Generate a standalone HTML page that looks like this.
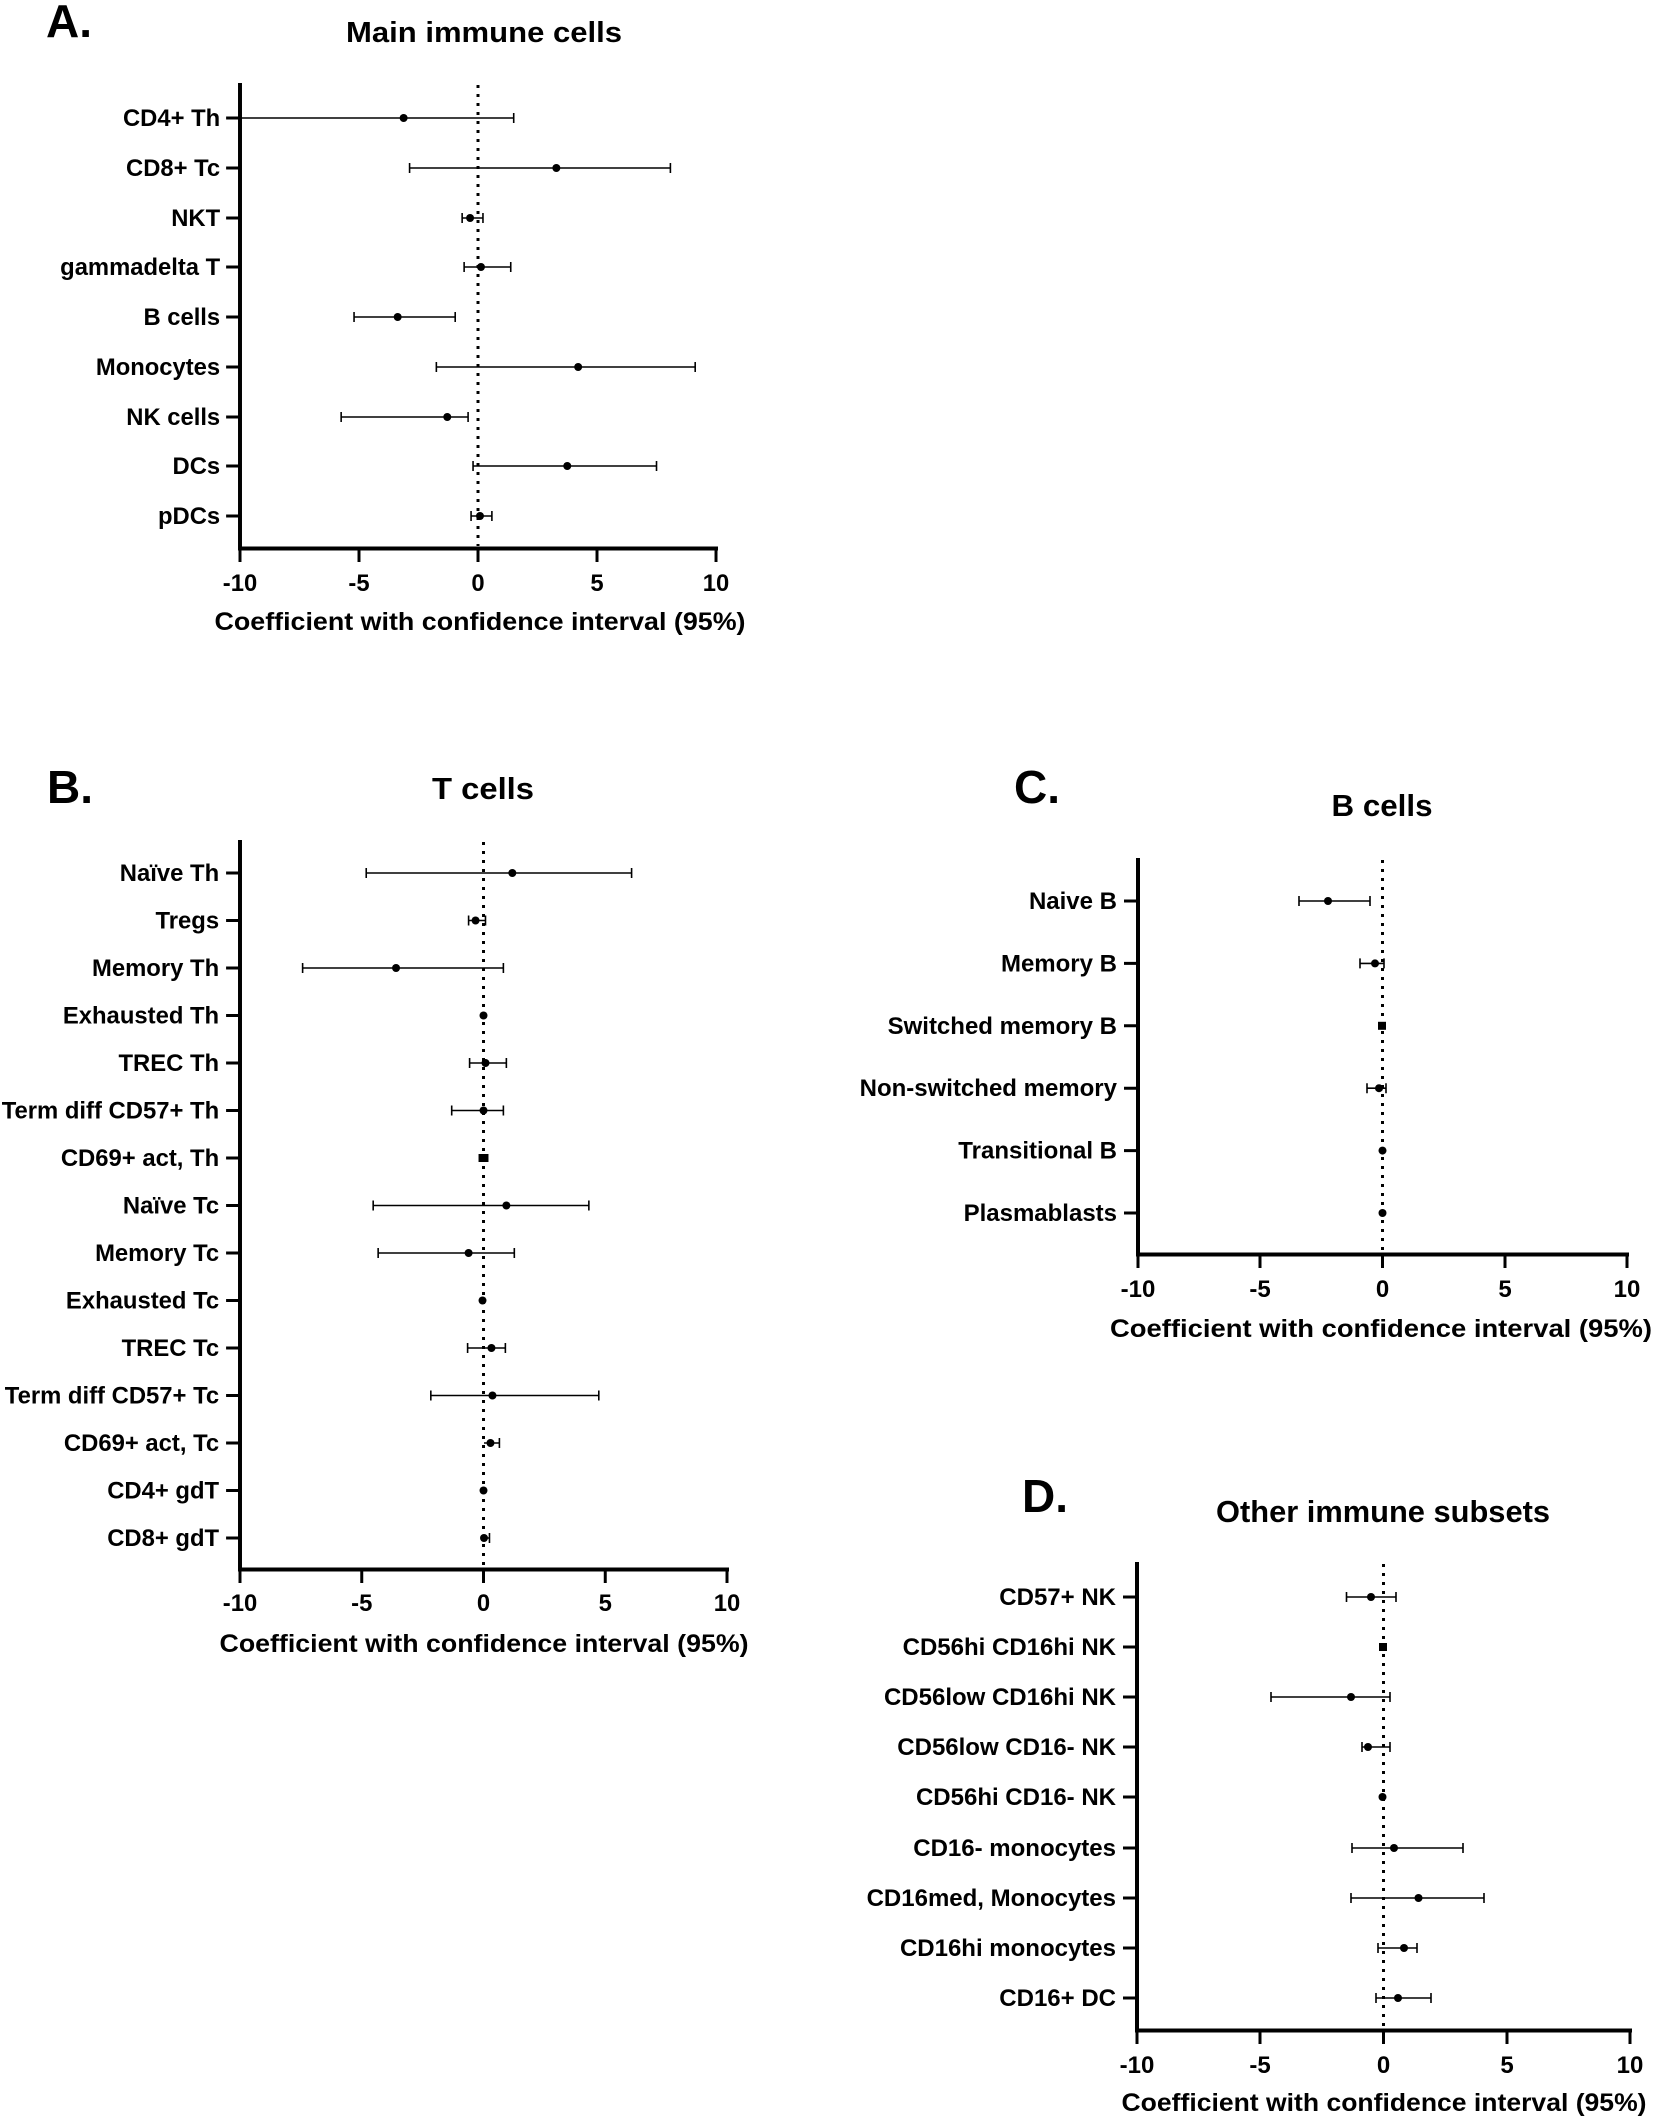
<!DOCTYPE html>
<html><head><meta charset="utf-8"><style>
html,body{margin:0;padding:0;background:#fff;}
svg{display:block;font-family:"Liberation Sans",Arial,sans-serif;font-weight:bold;}
</style></head><body>
<svg width="1654" height="2119" viewBox="0 0 1654 2119" xmlns="http://www.w3.org/2000/svg">
<g fill="#000" stroke="none">
<text x="46" y="37" font-size="46">A.</text>
<text x="47" y="803" font-size="46">B.</text>
<text x="1014" y="803" font-size="46">C.</text>
<text x="1022" y="1512" font-size="46">D.</text>
<text x="484" y="42" font-size="29" text-anchor="middle" textLength="276" lengthAdjust="spacingAndGlyphs">Main immune cells</text>
<text x="483" y="799" font-size="31" text-anchor="middle" textLength="102" lengthAdjust="spacingAndGlyphs">T cells</text>
<text x="1382" y="816" font-size="31" text-anchor="middle" textLength="101" lengthAdjust="spacingAndGlyphs">B cells</text>
<text x="1383" y="1522" font-size="31" text-anchor="middle" textLength="334" lengthAdjust="spacingAndGlyphs">Other immune subsets</text>
<text x="480" y="630" font-size="25" text-anchor="middle" textLength="531" lengthAdjust="spacingAndGlyphs">Coefficient with confidence interval (95%)</text>
<text x="484" y="1652" font-size="25" text-anchor="middle" textLength="529" lengthAdjust="spacingAndGlyphs">Coefficient with confidence interval (95%)</text>
<text x="1381" y="1337" font-size="25" text-anchor="middle" textLength="542" lengthAdjust="spacingAndGlyphs">Coefficient with confidence interval (95%)</text>
<text x="1384" y="2111" font-size="25" text-anchor="middle" textLength="525" lengthAdjust="spacingAndGlyphs">Coefficient with confidence interval (95%)</text>
</g>

<!-- Panel A -->
<g transform="translate(240,0) scale(0.9917,1) translate(-244,0)">
<g stroke="#000" fill="none">
<path d="M244,83 V550 M242,548.5 H726" stroke-width="4"/>
<path d="M244,550 v12 M364,550 v12 M484,550 v12 M604,550 v12 M724,550 v12" stroke-width="3"/>
<path d="M230,118 h14 M230,168 h14 M230,218 h14 M230,267 h14 M230,317 h14 M230,367 h14 M230,417 h14 M230,466 h14 M230,516 h14" stroke-width="3"/>
<path d="M484,85 V546" stroke-width="3" stroke-dasharray="3,6"/>
<g stroke-width="1.6">
<path d="M244,118 H520 M520,113 v10"/>
<path d="M415,168 H678 M415,163 v10 M678,163 v10"/>
<path d="M468,218 H489 M468,213 v10 M489,213 v10"/>
<path d="M470,267 H517 M470,262 v10 M517,262 v10"/>
<path d="M359,317 H461 M359,312 v10 M461,312 v10"/>
<path d="M442,367 H703 M442,362 v10 M703,362 v10"/>
<path d="M346,417 H474 M346,412 v10 M474,412 v10"/>
<path d="M479,466 H664 M479,461 v10 M664,461 v10"/>
<path d="M477,516 H498 M477,511 v10 M498,511 v10"/>
</g></g>
<g fill="#000">
<circle cx="409" cy="118" r="4"/><circle cx="563" cy="168" r="4"/><circle cx="476" cy="218" r="4"/><circle cx="487" cy="267" r="4"/><circle cx="403" cy="317" r="4"/><circle cx="585" cy="367" r="4"/><circle cx="453" cy="417" r="4"/><circle cx="574" cy="466" r="4"/><circle cx="486" cy="516" r="4"/>
<g font-size="24" text-anchor="end">
<text x="224" y="126">CD4+ Th</text><text x="224" y="176">CD8+ Tc</text><text x="224" y="226">NKT</text><text x="224" y="275">gammadelta T</text><text x="224" y="325">B cells</text><text x="224" y="375">Monocytes</text><text x="224" y="425">NK cells</text><text x="224" y="474">DCs</text><text x="224" y="524">pDCs</text>
</g>
<g font-size="24" text-anchor="middle">
<text x="244" y="591">-10</text><text x="364" y="591">-5</text><text x="484" y="591">0</text><text x="604" y="591">5</text><text x="724" y="591">10</text>
</g></g></g>

<!-- Panel B -->
<g transform="translate(240,0) scale(0.9939,1) translate(-245,0)">
<g stroke="#000" fill="none">
<path d="M245,840 V1571 M243,1569.5 H737" stroke-width="4"/>
<path d="M245,1571 v12 M367.5,1571 v12 M490,1571 v12 M612.5,1571 v12 M735,1571 v12" stroke-width="3"/>
<path d="M231,873 h14 M231,920.5 h14 M231,968 h14 M231,1015.5 h14 M231,1063 h14 M231,1110.5 h14 M231,1158 h14 M231,1205.5 h14 M231,1253 h14 M231,1300.5 h14 M231,1348 h14 M231,1395.5 h14 M231,1443 h14 M231,1490.5 h14 M231,1538 h14" stroke-width="3"/>
<path d="M490,842 V1567" stroke-width="3" stroke-dasharray="3,6"/>
<g stroke-width="1.6">
<path d="M372,873 H639 M372,868 v10 M639,868 v10"/>
<path d="M475,920.5 H492 M475,915.5 v10 M492,915.5 v10"/>
<path d="M308,968 H510 M308,963 v10 M510,963 v10"/>
<path d="M476,1063 H513 M476,1058 v10 M513,1058 v10"/>
<path d="M458,1110.5 H510 M458,1105.5 v10 M510,1105.5 v10"/>
<path d="M379,1205.5 H596 M379,1200.5 v10 M596,1200.5 v10"/>
<path d="M384,1253 H521 M384,1248 v10 M521,1248 v10"/>
<path d="M474,1348 H512 M474,1343 v10 M512,1343 v10"/>
<path d="M437,1395.5 H606 M437,1390.5 v10 M606,1390.5 v10"/>
<path d="M490.5,1443 H506 M506,1438 v10"/>
<path d="M489,1538 H496 M496,1533 v10"/>
</g></g>
<g fill="#000">
<circle cx="519" cy="873" r="4"/><circle cx="482" cy="920.5" r="4"/><circle cx="402" cy="968" r="4"/><circle cx="490" cy="1015.5" r="4"/><circle cx="492" cy="1063" r="4"/><circle cx="490" cy="1110.5" r="4"/><rect x="485" y="1154" width="10" height="8"/><circle cx="513" cy="1205.5" r="4"/><circle cx="475" cy="1253" r="4"/><circle cx="489" cy="1300.5" r="4"/><circle cx="498" cy="1348" r="4"/><circle cx="499" cy="1395.5" r="4"/><circle cx="497" cy="1443" r="4"/><circle cx="490" cy="1490.5" r="4"/><circle cx="490.5" cy="1538" r="4"/>
<g font-size="24" text-anchor="end">
<text x="224" y="881">Naïve Th</text><text x="224" y="928.5">Tregs</text><text x="224" y="976">Memory Th</text><text x="224" y="1023.5">Exhausted Th</text><text x="224" y="1071">TREC Th</text><text x="224" y="1118.5">Term diff CD57+ Th</text><text x="224" y="1166">CD69+ act, Th</text><text x="224" y="1213.5">Naïve Tc</text><text x="224" y="1261">Memory Tc</text><text x="224" y="1308.5">Exhausted Tc</text><text x="224" y="1356">TREC Tc</text><text x="224" y="1403.5">Term diff CD57+ Tc</text><text x="224" y="1451">CD69+ act, Tc</text><text x="224" y="1498.5">CD4+ gdT</text><text x="224" y="1546">CD8+ gdT</text>
</g>
<g font-size="24" text-anchor="middle">
<text x="245" y="1611">-10</text><text x="367.5" y="1611">-5</text><text x="490" y="1611">0</text><text x="612.5" y="1611">5</text><text x="735" y="1611">10</text>
</g></g></g>

<!-- Panel C -->
<g stroke="#000" fill="none">
<path d="M1138,858 V1256 M1136,1254.5 H1629" stroke-width="4"/>
<path d="M1138,1256 v12 M1260,1256 v12 M1382.5,1256 v12 M1505,1256 v12 M1627,1256 v12" stroke-width="3"/>
<path d="M1124,901 h14 M1124,963.4 h14 M1124,1025.8 h14 M1124,1088.2 h14 M1124,1150.6 h14 M1124,1213 h14" stroke-width="3"/>
<path d="M1382.5,860 V1252" stroke-width="3" stroke-dasharray="3,6"/>
<g stroke-width="1.6">
<path d="M1299,901 H1370 M1299,896 v10 M1370,896 v10"/>
<path d="M1360,963.4 H1384 M1360,958.4 v10 M1384,958.4 v10"/>
<path d="M1367,1088.2 H1386 M1367,1083.2 v10 M1386,1083.2 v10"/>
</g></g>
<g fill="#000">
<circle cx="1328" cy="901" r="4"/><circle cx="1375" cy="963.4" r="4"/><rect x="1378" y="1021.8" width="8" height="8"/><circle cx="1379" cy="1088.2" r="4"/><circle cx="1382.5" cy="1150.6" r="4"/><circle cx="1382.5" cy="1213" r="4"/>
<g font-size="24" text-anchor="end">
<text x="1117" y="909">Naive B</text><text x="1117" y="971.4">Memory B</text><text x="1117" y="1033.8">Switched memory B</text><text x="1117" y="1096.2">Non-switched memory</text><text x="1117" y="1158.6">Transitional B</text><text x="1117" y="1221">Plasmablasts</text>
</g>
<g font-size="24" text-anchor="middle">
<text x="1138" y="1297">-10</text><text x="1260" y="1297">-5</text><text x="1382.5" y="1297">0</text><text x="1505" y="1297">5</text><text x="1627" y="1297">10</text>
</g></g>

<!-- Panel D -->
<g stroke="#000" fill="none">
<path d="M1137,1562 V2032 M1135,2030.5 H1632" stroke-width="4"/>
<path d="M1137,2032 v12 M1260,2032 v12 M1383.5,2032 v12 M1507,2032 v12 M1630,2032 v12" stroke-width="3"/>
<path d="M1123,1597 h14 M1123,1647 h14 M1123,1697 h14 M1123,1747 h14 M1123,1797 h14 M1123,1848 h14 M1123,1898 h14 M1123,1948 h14 M1123,1998 h14" stroke-width="3"/>
<path d="M1383.5,1564 V2028" stroke-width="3" stroke-dasharray="3,6"/>
<g stroke-width="1.6">
<path d="M1346.5,1597 H1396 M1346.5,1592 v10 M1396,1592 v10"/>
<path d="M1271,1697 H1390 M1271,1692 v10 M1390,1692 v10"/>
<path d="M1362,1747 H1390 M1362,1742 v10 M1390,1742 v10"/>
<path d="M1352,1848 H1463 M1352,1843 v10 M1463,1843 v10"/>
<path d="M1351,1898 H1484 M1351,1893 v10 M1484,1893 v10"/>
<path d="M1378,1948 H1417 M1378,1943 v10 M1417,1943 v10"/>
<path d="M1376,1998 H1431 M1376,1993 v10 M1431,1993 v10"/>
</g></g>
<g fill="#000">
<circle cx="1371" cy="1597" r="4"/><rect x="1379" y="1643" width="8" height="8"/><circle cx="1351" cy="1697" r="4"/><circle cx="1368" cy="1747" r="4"/><circle cx="1382.5" cy="1797" r="4"/><circle cx="1394" cy="1848" r="4"/><circle cx="1418.5" cy="1898" r="4"/><circle cx="1404" cy="1948" r="4"/><circle cx="1398" cy="1998" r="4"/>
<g font-size="24" text-anchor="end">
<text x="1116" y="1605">CD57+ NK</text><text x="1116" y="1655">CD56hi CD16hi NK</text><text x="1116" y="1705">CD56low CD16hi NK</text><text x="1116" y="1755">CD56low CD16- NK</text><text x="1116" y="1805">CD56hi CD16- NK</text><text x="1116" y="1856">CD16- monocytes</text><text x="1116" y="1906">CD16med, Monocytes</text><text x="1116" y="1956">CD16hi monocytes</text><text x="1116" y="2006">CD16+ DC</text>
</g>
<g font-size="24" text-anchor="middle">
<text x="1137" y="2073">-10</text><text x="1260" y="2073">-5</text><text x="1383.5" y="2073">0</text><text x="1507" y="2073">5</text><text x="1630" y="2073">10</text>
</g></g>
</svg>
</body></html>
